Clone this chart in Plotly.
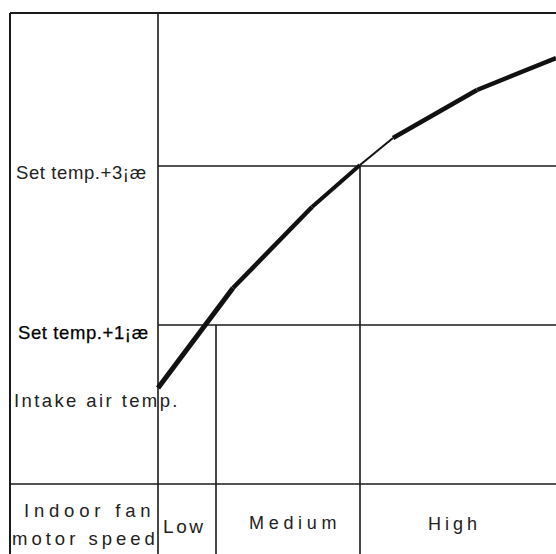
import json
import plotly.graph_objects as go

# Curve: air temperature rise (chart units, y grows downward)
curve_x = [158, 233, 312, 360, 393, 477, 556]
curve_y = [388, 288, 207, 165, 138, 90, 58]
segment_widths = [5, 4.5, 4, 2, 4.5, 4.5]

# Temperature threshold levels
level_y = [325, 166]
level_labels = ["Set temp.+1¡æ", "Set temp.+3¡æ"]

# Fan speed zones
zone_edges = [158, 216, 360, 556]
zone_labels = ["Low", "Medium", "High"]

intake_label = "Intake air temp."
row_label = ["Indoor fan", "motor speed"]

W, H = 556, 554
box_left, box_top, row_y = 10, 13, 484
ink = "#1a1a1a"
FAM = "Liberation Sans, Arial, sans-serif"

fig = go.Figure()

for i in range(len(curve_x) - 1):
    fig.add_trace(go.Scatter(
        x=curve_x[i:i + 2], y=curve_y[i:i + 2], mode="lines",
        line=dict(color="#111", width=segment_widths[i]),
        hoverinfo="skip", showlegend=False))

shapes = []
def seg(x0, y0, x1, y1, w=1.6):
    shapes.append(dict(type="line", xref="x", yref="y", x0=x0, y0=y0, x1=x1, y1=y1,
                       line=dict(color=ink, width=w), layer="below"))

seg(box_left, box_top, W + 5, box_top, 2)
seg(box_left, box_top, box_left, H + 5, 2)
seg(zone_edges[0], box_top, zone_edges[0], H + 5)
seg(box_left, row_y, W + 5, row_y)
for ly in level_y:
    seg(zone_edges[0], ly, W + 5, ly)
seg(zone_edges[1], level_y[0], zone_edges[1], H + 5)
seg(zone_edges[2], level_y[1], zone_edges[2], H + 5)

# (text, left x, centre y, font size, letter spacing)
label_specs = [
    (level_labels[1], 15, 172, 18.5, 0.6),
    (level_labels[0], 17, 332, 18.5, 0.6),
    (intake_label, 13, 400, 18.5, 2.4),
    (row_label[0], 23, 510, 18.5, 4.8),
    (row_label[1], 11, 538, 18.5, 4.0),
    (zone_labels[0], 162, 526, 19, 2.6),
    (zone_labels[1], 248, 523, 18, 4.7),
    (zone_labels[2], 427, 524, 18, 4.0),
]
ann = []
spacing = {}
for text, x, y, size, ls in label_specs:
    ann.append(dict(x=x, y=y, text=text, xref="x", yref="y", showarrow=False,
                    xanchor="left", yanchor="middle", align="left", borderpad=0,
                    font=dict(family=FAM, size=size, color="#222")))
    spacing[text] = ls

fig.update_layout(
    width=W, height=H, margin=dict(l=0, r=0, t=0, b=0),
    paper_bgcolor="white", plot_bgcolor="white",
    xaxis=dict(range=[0, W], visible=False, fixedrange=True),
    yaxis=dict(range=[H, 0], visible=False, fixedrange=True),
    shapes=shapes, annotations=ann, showlegend=False,
)

post = """
document.body.style.margin='0';
var sp = %s;
var bold = %s;
document.querySelectorAll('.annotation-text').forEach(function(t){
  var k = t.textContent;
  if (sp[k] !== undefined) { t.style.letterSpacing = sp[k] + 'px'; }
  if (k === bold) { t.style.stroke = '#000'; t.style.strokeWidth = '0.25px'; t.style.fill = '#000'; }
});
""" % (json.dumps(spacing), json.dumps(level_labels[0]))

fig.write_html("out.html", post_script=post, config={"displayModeBar": False})
